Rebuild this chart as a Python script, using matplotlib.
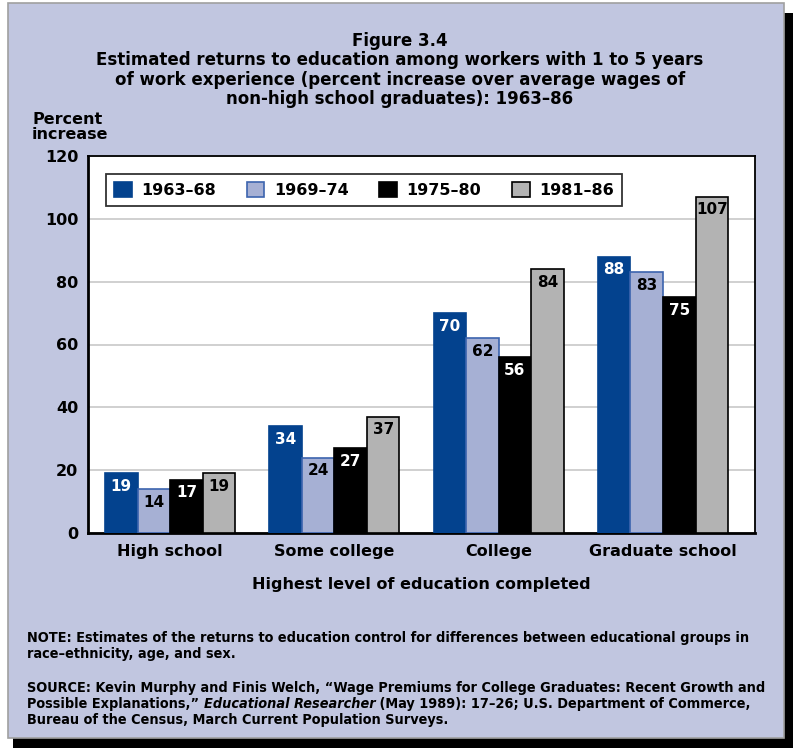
import numpy as np
import matplotlib.pyplot as plt
from matplotlib.patches import Rectangle

# data
levels = ["High school", "Some college", "College", "Graduate school"]
periods = ["1963\u201368", "1969\u201374", "1975\u201380", "1981\u201386"]
p1963 = [19, 34, 70, 88]
p1969 = [14, 24, 62, 83]
p1975 = [17, 27, 56, 75]
p1981 = [19, 37, 84, 107]

bg = "#C1C6E0"
fills = ["#03428E", "#A6B0D4", "#000000", "#B3B3B3"]
edges = ["#03428E", "#3C64AE", "#000000", "#000000"]
txtcol = ["white", "black", "white", "black"]

plt.rcParams['font.family'] = ['DejaVu Sans']
fig = plt.figure(figsize=(7.93, 7.48), dpi=100)
fig.patch.set_facecolor("white")

# shadow and panel
fig.patches.append(Rectangle((13/793, 0), 780/793, 735/748, transform=fig.transFigure,
                             facecolor="black", edgecolor="none", zorder=-3))
fig.patches.append(Rectangle((8/793, 10/748), 776/793, 735/748, transform=fig.transFigure,
                             facecolor=bg, edgecolor="#A0A0A0", linewidth=1.2, zorder=-2))

ax = fig.add_axes([88/793, 215/748, 667/793, 377/748])
ax.set_facecolor("white")

x = np.arange(len(levels))
w = 0.198
series = [p1963, p1969, p1975, p1981]
for i, vals in enumerate(series):
    xs = x + (i - 1.5) * w
    bars = ax.bar(xs, vals, w, color=fills[i], edgecolor=edges[i], linewidth=1.2,
                  label=periods[i], zorder=3)
    for b, v in zip(bars, vals):
        ax.annotate(str(v), (b.get_x() + b.get_width() / 2, v), xytext=(0, -4),
                    textcoords="offset points", ha="center", va="top",
                    color=txtcol[i], fontsize=11, fontweight="bold", zorder=4)

ax.set_ylim(0, 120)
ax.set_xlim(-0.5, 3.56)
ax.set_yticks(range(0, 121, 20))
ax.set_yticklabels([str(t) for t in range(0, 121, 20)], fontsize=11.5, fontweight="bold")
ax.set_xticks(x)
ax.set_xticklabels(levels, fontsize=11.5, fontweight="bold")
ax.tick_params(axis="both", length=0, pad=7)
ax.tick_params(axis="x", pad=8)
ax.yaxis.grid(True, color="#C8C8C8", linewidth=1.2, zorder=0)
ax.set_axisbelow(True)
for s in ax.spines.values():
    s.set_color("black")
    s.set_linewidth(1.3)
ax.spines["left"].set_linewidth(2)
ax.spines["bottom"].set_linewidth(2)

leg = ax.legend(loc="center", bbox_to_anchor=(18/667, 0.862, 516/667, 0.098),
                mode="expand", ncol=4, frameon=True, fancybox=False,
                handlelength=1.1, handleheight=1.1, handletextpad=0.6, borderpad=0.5,
                borderaxespad=0, columnspacing=1.5, prop={"weight": "bold", "size": 11.5})
leg.get_frame().set_edgecolor("black")
leg.get_frame().set_linewidth(1.3)

ax.set_xlabel("Highest level of education completed", fontsize=11.5, fontweight="bold",
              labelpad=13)

fig.text(32/793, 1 - 127/748, "Percent\nincrease", fontsize=11.5, fontweight="bold",
         ha="left", va="center", linespacing=1.05)

title = ("Figure 3.4\nEstimated returns to education among workers with 1 to 5 years\n"
         "of work experience (percent increase over average wages of\n"
         "non-high school graduates): 1963\u201386")
fig.text(400/793, 1 - 32/748, title, fontsize=12, fontweight="bold", ha="center",
         va="top", linespacing=1.1)

# notes
nf = dict(family="DejaVu Sans", stretch="condensed", weight="bold", fontsize=10.4)
fig.text(27/793, 1 - 631/748,
         "NOTE: Estimates of the returns to education control for differences between educational groups in\n"
         "race\u2013ethnicity, age, and sex.", ha="left", va="top", linespacing=1.2, **nf)
fig.text(27/793, 1 - 681/748,
         "SOURCE: Kevin Murphy and Finis Welch, \u201cWage Premiums for College Graduates: Recent Growth and",
         ha="left", va="top", **nf)
fig.text(27/793, 1 - 713/748, "Bureau of the Census, March Current Population Surveys.",
         ha="left", va="top", **nf)

r = fig.canvas.get_renderer()
y2 = 1 - 697/748
xpos = 27/793
parts = [("Possible Explanations,\u201d ", "normal"), ("Educational Researcher", "italic"),
         (" (May 1989): 17\u201326; U.S. Department of Commerce,", "normal")]
for txt, st in parts:
    t = fig.text(xpos, y2, txt, style=st, ha="left", va="top", **nf)
    bb = t.get_window_extent(renderer=r)
    xpos += bb.width / fig.bbox.width

fig.savefig("out.png", dpi=100, facecolor=fig.get_facecolor())
